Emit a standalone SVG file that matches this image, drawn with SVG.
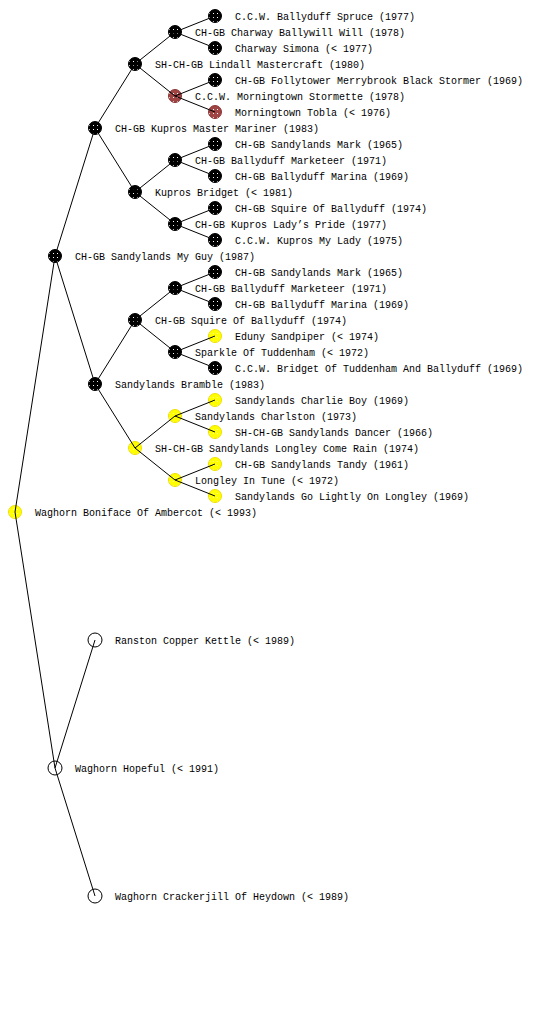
<svg xmlns="http://www.w3.org/2000/svg" width="560" height="1024" viewBox="0 0 560 1024">
<style>
text{font-family:"Liberation Mono","DejaVu Sans Mono",monospace;font-size:10px;fill:#000}
.k{fill:url(#dk);stroke:#000;stroke-width:1}
.y{fill:url(#dy);stroke:#f0e000;stroke-width:1}
.r{fill:url(#dr);stroke:#8a3535;stroke-width:1}
.w{fill:#fff;stroke:#000;stroke-width:1}
#connectors line{stroke:#000;stroke-width:1}
</style>
<defs>
<pattern id="dk" width="4" height="4" patternUnits="userSpaceOnUse"><rect width="4" height="4" fill="#000"/><rect x="1" y="1" width="1" height="1" fill="#fff"/></pattern>
<pattern id="dy" width="4" height="4" patternUnits="userSpaceOnUse"><rect width="4" height="4" fill="#ffff00"/><rect x="1" y="1" width="1" height="1" fill="#ffffa0"/></pattern>
<pattern id="dr" width="4" height="4" patternUnits="userSpaceOnUse"><rect width="4" height="4" fill="#a04444"/><rect x="1" y="1" width="1" height="1" fill="#fff"/></pattern>
</defs>
<rect width="560" height="1024" fill="#fff"/>
<g id="nodes">
<g id="n1"><circle class="y" cx="15" cy="512" r="6.5"/><text x="35" y="516">Waghorn Boniface Of Ambercot (&lt; 1993)</text></g>
<g id="n2"><circle class="k" cx="55" cy="256" r="6.5"/><text x="75" y="260">CH-GB Sandylands My Guy (1987)</text></g>
<g id="n3"><circle class="k" cx="95" cy="128" r="6.5"/><text x="115" y="132">CH-GB Kupros Master Mariner (1983)</text></g>
<g id="n4"><circle class="k" cx="135" cy="64" r="6.5"/><text x="155" y="68">SH-CH-GB Lindall Mastercraft (1980)</text></g>
<g id="n5"><circle class="k" cx="175" cy="32" r="6.5"/><text x="195" y="36">CH-GB Charway Ballywill Will (1978)</text></g>
<g id="n6"><circle class="k" cx="215" cy="16" r="6.5"/><text x="235" y="20">C.C.W. Ballyduff Spruce (1977)</text></g>
<g id="n7"><circle class="k" cx="215" cy="48" r="6.5"/><text x="235" y="52">Charway Simona (&lt; 1977)</text></g>
<g id="n8"><circle class="r" cx="175" cy="96" r="6.5"/><text x="195" y="100">C.C.W. Morningtown Stormette (1978)</text></g>
<g id="n9"><circle class="k" cx="215" cy="80" r="6.5"/><text x="235" y="84">CH-GB Follytower Merrybrook Black Stormer (1969)</text></g>
<g id="n10"><circle class="r" cx="215" cy="112" r="6.5"/><text x="235" y="116">Morningtown Tobla (&lt; 1976)</text></g>
<g id="n11"><circle class="k" cx="135" cy="192" r="6.5"/><text x="155" y="196">Kupros Bridget (&lt; 1981)</text></g>
<g id="n12"><circle class="k" cx="175" cy="160" r="6.5"/><text x="195" y="164">CH-GB Ballyduff Marketeer (1971)</text></g>
<g id="n13"><circle class="k" cx="215" cy="144" r="6.5"/><text x="235" y="148">CH-GB Sandylands Mark (1965)</text></g>
<g id="n14"><circle class="k" cx="215" cy="176" r="6.5"/><text x="235" y="180">CH-GB Ballyduff Marina (1969)</text></g>
<g id="n15"><circle class="k" cx="175" cy="224" r="6.5"/><text x="195" y="228">CH-GB Kupros Lady’s Pride (1977)</text></g>
<g id="n16"><circle class="k" cx="215" cy="208" r="6.5"/><text x="235" y="212">CH-GB Squire Of Ballyduff (1974)</text></g>
<g id="n17"><circle class="k" cx="215" cy="240" r="6.5"/><text x="235" y="244">C.C.W. Kupros My Lady (1975)</text></g>
<g id="n18"><circle class="k" cx="95" cy="384" r="6.5"/><text x="115" y="388">Sandylands Bramble (1983)</text></g>
<g id="n19"><circle class="k" cx="135" cy="320" r="6.5"/><text x="155" y="324">CH-GB Squire Of Ballyduff (1974)</text></g>
<g id="n20"><circle class="k" cx="175" cy="288" r="6.5"/><text x="195" y="292">CH-GB Ballyduff Marketeer (1971)</text></g>
<g id="n21"><circle class="k" cx="215" cy="272" r="6.5"/><text x="235" y="276">CH-GB Sandylands Mark (1965)</text></g>
<g id="n22"><circle class="k" cx="215" cy="304" r="6.5"/><text x="235" y="308">CH-GB Ballyduff Marina (1969)</text></g>
<g id="n23"><circle class="k" cx="175" cy="352" r="6.5"/><text x="195" y="356">Sparkle Of Tuddenham (&lt; 1972)</text></g>
<g id="n24"><circle class="y" cx="215" cy="336" r="6.5"/><text x="235" y="340">Eduny Sandpiper (&lt; 1974)</text></g>
<g id="n25"><circle class="k" cx="215" cy="368" r="6.5"/><text x="235" y="372">C.C.W. Bridget Of Tuddenham And Ballyduff (1969)</text></g>
<g id="n26"><circle class="y" cx="135" cy="448" r="6.5"/><text x="155" y="452">SH-CH-GB Sandylands Longley Come Rain (1974)</text></g>
<g id="n27"><circle class="y" cx="175" cy="416" r="6.5"/><text x="195" y="420">Sandylands Charlston (1973)</text></g>
<g id="n28"><circle class="y" cx="215" cy="400" r="6.5"/><text x="235" y="404">Sandylands Charlie Boy (1969)</text></g>
<g id="n29"><circle class="y" cx="215" cy="432" r="6.5"/><text x="235" y="436">SH-CH-GB Sandylands Dancer (1966)</text></g>
<g id="n30"><circle class="y" cx="175" cy="480" r="6.5"/><text x="195" y="484">Longley In Tune (&lt; 1972)</text></g>
<g id="n31"><circle class="y" cx="215" cy="464" r="6.5"/><text x="235" y="468">CH-GB Sandylands Tandy (1961)</text></g>
<g id="n32"><circle class="y" cx="215" cy="496" r="6.5"/><text x="235" y="500">Sandylands Go Lightly On Longley (1969)</text></g>
<g id="n33"><circle class="w" cx="55" cy="768" r="7"/><text x="75" y="772">Waghorn Hopeful (&lt; 1991)</text></g>
<g id="n34"><circle class="w" cx="95" cy="640" r="7"/><text x="115" y="644">Ranston Copper Kettle (&lt; 1989)</text></g>
<g id="n35"><circle class="w" cx="95" cy="896" r="7"/><text x="115" y="900">Waghorn Crackerjill Of Heydown (&lt; 1989)</text></g>
</g>
<g id="connectors">
<line x1="15" y1="512" x2="55" y2="256"/>
<line x1="15" y1="512" x2="55" y2="768"/>
<line x1="55" y1="256" x2="95" y2="128"/>
<line x1="55" y1="256" x2="95" y2="384"/>
<line x1="95" y1="128" x2="135" y2="64"/>
<line x1="95" y1="128" x2="135" y2="192"/>
<line x1="135" y1="64" x2="175" y2="32"/>
<line x1="135" y1="64" x2="175" y2="96"/>
<line x1="175" y1="32" x2="215" y2="16"/>
<line x1="175" y1="32" x2="215" y2="48"/>
<line x1="175" y1="96" x2="215" y2="80"/>
<line x1="175" y1="96" x2="215" y2="112"/>
<line x1="135" y1="192" x2="175" y2="160"/>
<line x1="135" y1="192" x2="175" y2="224"/>
<line x1="175" y1="160" x2="215" y2="144"/>
<line x1="175" y1="160" x2="215" y2="176"/>
<line x1="175" y1="224" x2="215" y2="208"/>
<line x1="175" y1="224" x2="215" y2="240"/>
<line x1="95" y1="384" x2="135" y2="320"/>
<line x1="95" y1="384" x2="135" y2="448"/>
<line x1="135" y1="320" x2="175" y2="288"/>
<line x1="135" y1="320" x2="175" y2="352"/>
<line x1="175" y1="288" x2="215" y2="272"/>
<line x1="175" y1="288" x2="215" y2="304"/>
<line x1="175" y1="352" x2="215" y2="336"/>
<line x1="175" y1="352" x2="215" y2="368"/>
<line x1="135" y1="448" x2="175" y2="416"/>
<line x1="135" y1="448" x2="175" y2="480"/>
<line x1="175" y1="416" x2="215" y2="400"/>
<line x1="175" y1="416" x2="215" y2="432"/>
<line x1="175" y1="480" x2="215" y2="464"/>
<line x1="175" y1="480" x2="215" y2="496"/>
<line x1="55" y1="768" x2="95" y2="640"/>
<line x1="55" y1="768" x2="95" y2="896"/>
</g>
</svg>
